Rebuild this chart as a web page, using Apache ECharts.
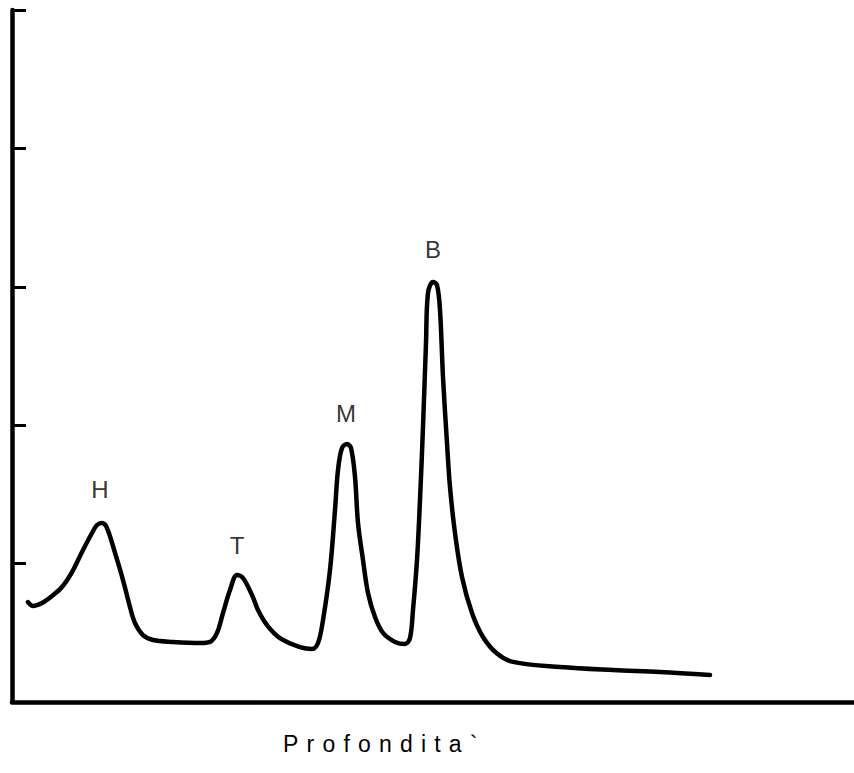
<!DOCTYPE html>
<html>
<head>
<meta charset="utf-8">
<script src="https://cdn.jsdelivr.net/npm/echarts@6/dist/echarts.min.js"></script>
<style>
html,body{margin:0;padding:0;background:#fff;}
#chart{width:854px;height:773px;}
#chart text[style*="23px"]{letter-spacing:8.2px;}
</style>
</head>
<body>
<div id="chart"></div>
<script>
// Depth (arbitrary units) and signal intensity (arbitrary units)
const depth = [16,21,30,40,50,60,70,80,85,90,95,103,111,118,123,131,141,161,188,198,205,211,218,225,231,240,246,255,268,288,300,306,311,318,323,326,330,335,339,343,346,351,356,363,371,383,393,398,401,405,408,411,414,416,421,425,428,431,435,438,443,450,460,471,485,501,548,601,648,698];
const intensity = [0.722,0.694,0.715,0.766,0.831,0.939,1.084,1.221,1.279,1.293,1.257,1.077,0.881,0.686,0.571,0.484,0.448,0.434,0.426,0.434,0.499,0.643,0.809,0.918,0.896,0.773,0.665,0.556,0.462,0.397,0.383,0.426,0.592,0.954,1.387,1.676,1.835,1.864,1.835,1.626,1.293,1.026,0.788,0.614,0.499,0.434,0.419,0.462,0.665,1.026,1.460,1.987,2.594,2.955,3.035,3.013,2.832,2.348,1.871,1.553,1.221,0.903,0.643,0.470,0.350,0.290,0.253,0.231,0.217,0.195];
// Peak labels and their positions
const peakNames = ['H','T','M','B'];
const peakX = [88,225,334,421];
const peakY = [1.532,1.134,2.088,3.266];
const xAxisTitle = 'Profondita`';

const chart = echarts.init(document.getElementById('chart'), null, {renderer:'svg'});
const lineData = depth.map((d,i)=>[d,intensity[i]]);
const peakData = peakNames.map((n,i)=>({name:n, value:[peakX[i],peakY[i]]}));
chart.setOption({
  animation:false,
  backgroundColor:'#ffffff',
  grid:{left:12,right:0,top:10,bottom:71},
  xAxis:{type:'value',min:0,max:842,
    axisLine:{show:true,onZero:false,lineStyle:{color:'#000',width:4.5}},
    axisTick:{show:false},axisLabel:{show:false},splitLine:{show:false}},
  yAxis:{type:'value',min:0,max:5,interval:1,
    axisLine:{show:true,lineStyle:{color:'#000',width:4.5}},
    axisTick:{show:true,inside:true,length:14,lineStyle:{color:'#000',width:3}},
    axisLabel:{show:false},splitLine:{show:false}},
  series:[
    {type:'line',data:lineData,smooth:0.35,symbol:'none',
     lineStyle:{color:'#000',width:4.5,cap:'round',join:'round'}},
    {type:'scatter',data:peakData,symbolSize:0,
     label:{show:true,position:'inside',formatter:'{b}',color:'#000',
       fontSize:24,fontFamily:'Liberation Sans, Arial, sans-serif'}}
  ],
  graphic:[{type:'text',left:283,top:732,
    style:{text:xAxisTitle,fill:'#000',fontSize:23,fontFamily:'Liberation Sans, Arial, sans-serif'}}]
});
</script>
</body>
</html>
